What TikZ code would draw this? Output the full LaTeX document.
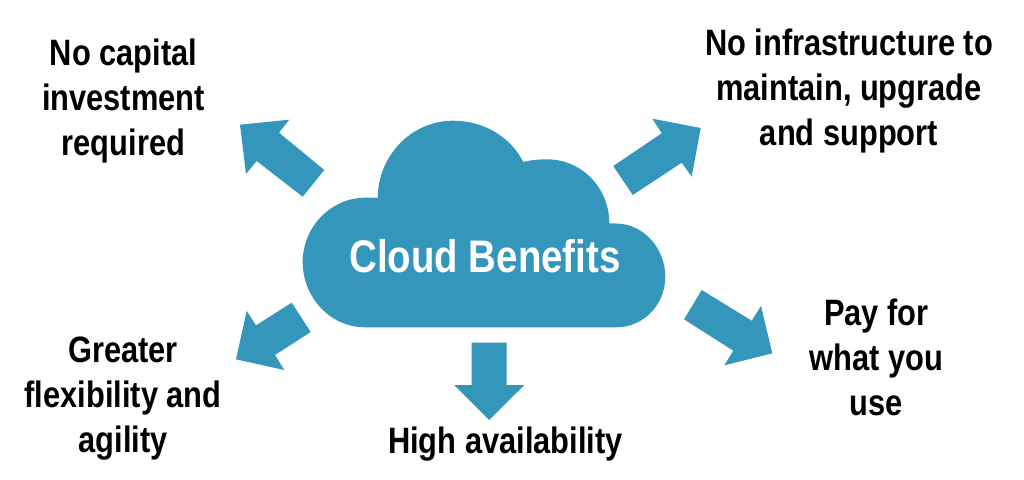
\documentclass[tikz,border=0pt]{standalone}
\usepackage{fontspec}
\setmainfont{Liberation Sans}[FakeStretch=0.84]
\definecolor{cloudblue}{HTML}{3596BB}
\tikzset{
  x=1pt,y=-1pt,
  shapefill/.style={fill=cloudblue,draw=none},
  lab/.style={align=center,font=\fontsize{36.7}{45}\selectfont\bfseries,text=black,inner sep=0pt},
}
\begin{document}
\begin{tikzpicture}
\useasboundingbox[fill=white] (0,0) rectangle (1024,479);
% cloud
\fill[cloudblue] (365,327.3) .. controls (330,327.3) and (302.7,297) .. (302.7,262)
 .. controls (302.7,226) and (332,197.7) .. (365,197.7)
 .. controls (369,197.7) and (374,197.5) .. (377.7,198)
 .. controls (378,155) and (412,120.7) .. (453,120.7)
 .. controls (483,120.7) and (510,136) .. (523.3,162)
 .. controls (531,160) and (539,159.3) .. (546.7,159.3)
 .. controls (582,159.3) and (609.3,188) .. (609.3,223.3)
 .. controls (612,223.5) and (614,223.5) .. (616,223.5)
 .. controls (643,223.5) and (665.3,248) .. (665.3,276.7)
 .. controls (665.3,305) and (643,327.3) .. (616.7,327.3) -- cycle;
% arrows
\fill[shapefill] (240,124.7) -- (289.3,119.7) -- (279,132.7) -- (324.3,170) -- (302.7,196.7) -- (256.7,161) -- (246,174) -- cycle;
\fill[shapefill] (700.7,128) -- (652.3,118.7) -- (661.7,133.3) -- (613.3,166) -- (632.7,195) -- (681.7,162.7) -- (691.7,176.7) -- cycle;
\fill[shapefill] (236,359.3) -- (246.7,311) -- (256,325.3) -- (291.7,302.7) -- (310.7,332) -- (275,355) -- (284.3,370) -- cycle;
\fill[shapefill] (471.7,342.7) -- (506.7,342.7) -- (506.7,385) -- (524.3,385) -- (489,420) -- (454,385) -- (471.7,385) -- cycle;
\fill[shapefill] (772.3,353.3) -- (724.3,365.3) -- (733.3,350.7) -- (684,319.3) -- (701.7,290) -- (751.7,320.7) -- (761,306) -- cycle;
% labels
\node[lab,text=white,font=\fontsize{45.7}{50}\selectfont\bfseries] (title) at (485,256) {Cloud Benefits};
\node[lab] (capital) at (123.5,101) {No capital\\investment\\required};
\node[lab] (infra) at (849,91) {No infrastructure to\\maintain, upgrade\\and support};
\node[lab] (flex) at (123,399) {Greater\\flexibility and\\agility};
\node[lab] (avail) at (505.5,444) {High availability};
\node[lab] (pay) at (876.5,357) {Pay for\\what you\\use};
\end{tikzpicture}
\end{document}
